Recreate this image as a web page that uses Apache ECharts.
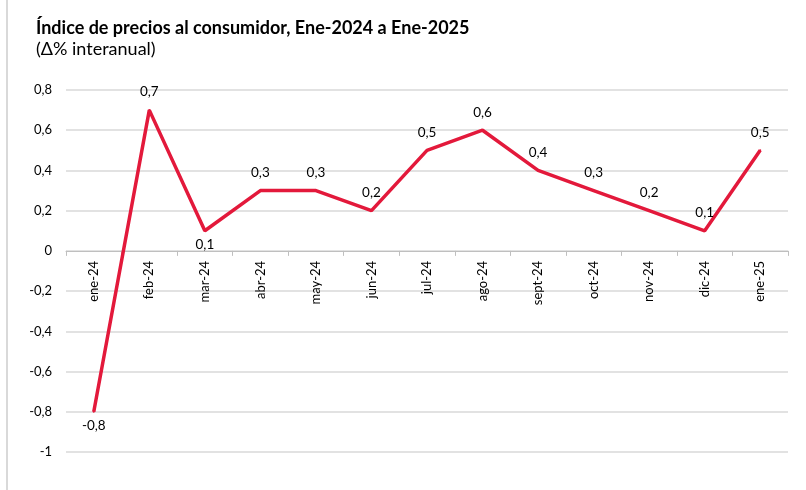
<!DOCTYPE html>
<html>
<head>
<meta charset="utf-8">
<script src="https://cdn.jsdelivr.net/npm/echarts@6/dist/echarts.min.js"></script>
<style>
  html, body { margin: 0; padding: 0; background: #fff; }
  #chart { width: 806px; height: 490px; }
</style>
</head>
<body>
<div id="chart"></div>
<script>
// categorias y valores (var. % interanual)
var months = ['ene-24', 'feb-24', 'mar-24', 'abr-24', 'may-24', 'jun-24', 'jul-24',
  'ago-24', 'sept-24', 'oct-24', 'nov-24', 'dic-24', 'ene-25'];
var ipc = [-0.8, 0.7, 0.1, 0.3, 0.3, 0.2, 0.5, 0.6, 0.4, 0.3, 0.2, 0.1, 0.5];
// etiquetas bajo el punto
var belowIdx = [0, 2];
var yMin = -1, yMax = 0.8, yStep = 0.2;

var fmt = function (v) { return String(v).replace('.', ','); };

var W = 806, H = 490;
var grid = { left: 66, right: 18, top: 90, bottom: 38 };
var gridH = H - grid.top - grid.bottom;
// eje de categorias sobre la linea del cero
var zeroOffset = -gridH * (0 - yMin) / (yMax - yMin);

var chart = echarts.init(document.getElementById('chart'));

var seriesData = ipc.map(function (v, i) {
  var item = { value: v };
  if (belowIdx.indexOf(i) >= 0) {
    item.label = { position: 'bottom', distance: 6 };
  }
  return item;
});

chart.setOption({
  animation: false,
  textStyle: { fontFamily: 'Lato' },
  title: {
    text: 'Índice de precios al consumidor, Ene-2024 a Ene-2025',
    subtext: '(Δ% interanual)',
    left: 31,
    top: 14,
    itemGap: 3,
    textStyle: { fontFamily: 'Lato', fontSize: 18, fontWeight: 'bold', color: '#000' },
    subtextStyle: { fontFamily: 'Lato', fontSize: 18, color: '#000' }
  },
  graphic: [{
    type: 'line',
    shape: { x1: 7, y1: 0, x2: 7, y2: H },
    style: { stroke: '#d9d9d9', lineWidth: 2 }
  }],
  grid: { left: grid.left, right: grid.right, top: grid.top, bottom: grid.bottom, outerBoundsMode: 'none', containLabel: false },
  xAxis: {
    type: 'category',
    data: months,
    boundaryGap: true,
    offset: zeroOffset,
    axisLine: { onZero: false, lineStyle: { color: '#bfbfbf', width: 1 } },
    axisTick: { show: true, length: 5, lineStyle: { color: '#bfbfbf' } },
    axisLabel: { rotate: 90, margin: 10, fontSize: 13, color: '#000', interval: 0 }
  },
  yAxis: {
    type: 'value',
    min: yMin,
    max: yMax,
    interval: yStep,
    axisLine: { show: false },
    axisTick: { show: false },
    splitLine: { lineStyle: { color: '#d9d9d9', width: 1.5 } },
    axisLabel: {
      fontSize: 13,
      color: '#000',
      margin: 14,
      formatter: function (v) { return fmt(Math.round(v * 10) / 10); }
    }
  },
  series: [{
    type: 'line',
    data: seriesData,
    symbol: 'circle',
    symbolSize: 2,
    showSymbol: true,
    itemStyle: { color: '#e3193b' },
    lineStyle: { color: '#e3193b', width: 3.5 },
    label: {
      show: true,
      position: 'top',
      distance: 10,
      fontSize: 13.5,
      color: '#000',
      formatter: function (p) { return fmt(p.value); }
    }
  }]
});
</script>
</body>
</html>
